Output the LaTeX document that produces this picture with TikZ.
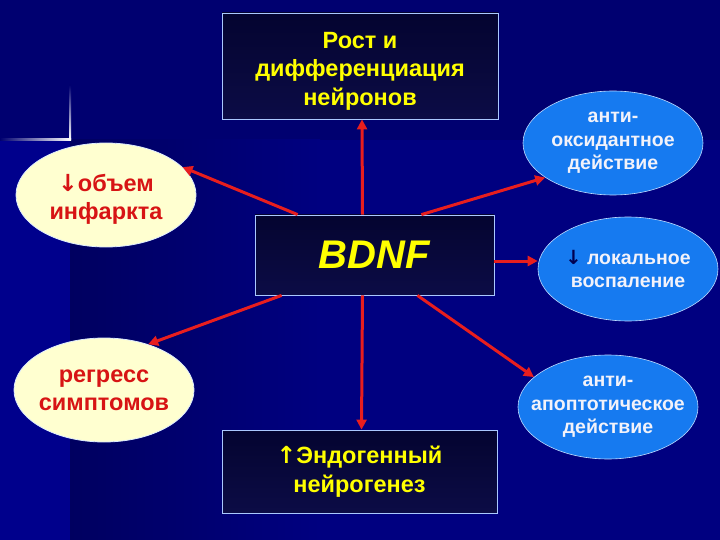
\documentclass[tikz,border=0pt]{standalone}
\usepackage{fontspec}
\setmainfont{Liberation Sans}
\newfontfamily\arrowfont{DejaVu Sans}
\usetikzlibrary{shapes.geometric,arrows.meta}
\definecolor{bgmain}{RGB}{0,0,128}
\definecolor{bgtop}{RGB}{0,0,112}
\definecolor{bgdark}{RGB}{0,0,96}
\definecolor{bgleft}{RGB}{0,0,140}
\definecolor{boxtop}{RGB}{4,4,48}
\definecolor{boxbot}{RGB}{12,12,70}
\definecolor{boxline}{RGB}{170,200,255}
\definecolor{cream}{RGB}{255,255,208}
\definecolor{creamline}{RGB}{220,235,255}
\definecolor{skyblue}{RGB}{22,122,240}
\definecolor{skyline}{RGB}{190,220,255}
\definecolor{txtred}{RGB}{215,20,20}
\definecolor{txtyellow}{RGB}{255,255,0}
\definecolor{txtwhite}{RGB}{242,242,250}
\definecolor{arrred}{RGB}{232,30,30}
\definecolor{darrow}{RGB}{0,0,80}
\tikzset{
  boxnode/.style={draw=boxline, line width=0.8pt, top color=boxtop, bottom color=boxbot,
    rectangle, inner sep=0pt, align=center, text=txtyellow,
    font=\bfseries\fontsize{23.5}{28.5}\selectfont},
  ellbase/.style={ellipse, inner xsep=-40pt, inner ysep=-30pt,
    minimum width=180pt, minimum height=104pt, align=center},
  creamell/.style={ellbase, draw=creamline, line width=0.8pt, fill=cream, text=txtred,
    font=\bfseries\fontsize{23.5}{28}\selectfont},
  blueell/.style={ellbase, draw=skyline, line width=0.6pt, fill=skyblue, text=txtwhite,
    font=\bfseries\fontsize{19.5}{23.5}\selectfont},
  arr/.style={draw=arrred, line width=3pt, -{Triangle[length=10pt,width=10pt]}}
}
\begin{document}
\begin{tikzpicture}[x=1pt,y=-1pt]
\useasboundingbox (0,0) rectangle (720,540);
% background
\fill[bgmain] (0,0) rectangle (720,540);
\fill[bgtop] (0,0) rectangle (720,140);
\shade[left color=bgdark, right color=bgmain] (70,140) rectangle (320,540);
\fill[bgleft] (0,140) rectangle (70,540);
\shade[top color=bgtop, bottom color=white] (69,85) rectangle (71,140);
\shade[left color=bgtop, right color=white] (0,139) rectangle (71,141);
% boxes
\node[boxnode, minimum width=276pt, minimum height=106pt] (growth) at (360,66)
  {\rule{0pt}{26pt}Рост и\\дифференциация\\нейронов};
\node[boxnode, minimum width=239pt, minimum height=80pt, font=\bfseries\itshape\fontsize{40}{44}\selectfont] (bdnf) at (374.5,255) {BDNF};
\node[boxnode, minimum width=275pt, minimum height=83pt] (endo) at (359.5,471.5)
  {{\arrowfont\bfseries ↑}Эндогенный\\нейрогенез};
% ellipses
\node[creamell] (infarct) at (106,195) {\rule{0pt}{26pt}{\arrowfont\bfseries ↓}объем\\инфаркта};
\node[creamell] (regress) at (104,390) {регресс\\симптомов};
\node[blueell] (antiox) at (613,143) {анти-\\оксидантное\\действие};
\node[blueell] (local) at (628,269) {{\color{darrow}\arrowfont\bfseries ↓} локальное\\воспаление};
\node[blueell] (antiap) at (608,407) {анти-\\апоптотическое\\действие};
% connectors
\draw[arr] ([xshift=-12pt]bdnf.north) -- ([xshift=2pt]growth.south);
\draw[arr] ([xshift=43pt]bdnf.north west) -- (infarct.20);
\draw[arr] ([xshift=-73pt]bdnf.north east) -- (antiox.207);
\draw[arr] ([yshift=-6pt]bdnf.east) -- ([yshift=-6pt]bdnf.east -| local.west);
\draw[arr] ([xshift=27pt]bdnf.south west) -- (regress.46);
\draw[arr] ([xshift=-12pt]bdnf.south) -- ([xshift=2pt]endo.north);
\draw[arr] ([xshift=-77pt]bdnf.south east) -- (antiap.158);
\end{tikzpicture}
\end{document}
